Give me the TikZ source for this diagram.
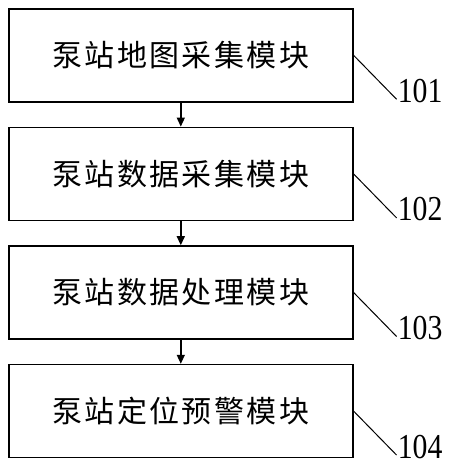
\documentclass[tikz,border=0pt]{standalone}
\usepackage{fontspec}
\setmainfont{Liberation Serif}
\newfontfamily\cjk[LetterSpace=8]{Noto Sans CJK SC}
\usetikzlibrary{arrows.meta, positioning}

\tikzset{
  modbox/.style={draw, line width=1.6pt, minimum width=344pt, minimum height=93pt,
    inner sep=0pt, font=\cjk\fontsize{30}{30}\selectfont},
  flow/.style={-{Triangle[length=9pt, width=8pt]}, line width=1.4pt},
  lead/.style={line width=1pt},
  tag/.style={anchor=base west, inner sep=0pt, xscale=0.85, font=\fontsize{35}{35}\selectfont}
}

\begin{document}
\begin{tikzpicture}[x=1pt, y=1pt]
  \useasboundingbox (0,0) rectangle (450,-466);

  % modules
  \node[modbox, anchor=north west] (map) at (8,-8) {泵站地图采集模块};
  \node[modbox, below=24pt of map] (collect) {泵站数据采集模块};
  \node[modbox, below=24pt of collect] (process) {泵站数据处理模块};
  \node[modbox, below=24pt of process] (warn) {泵站定位预警模块};

  % flow arrows
  \draw[flow] (map) -- (collect);
  \draw[flow] (collect) -- (process);
  \draw[flow] (process) -- (warn);

  % reference numbers
  \foreach \m/\n in {map/101, collect/102, process/103, warn/104} {
    \coordinate (\m-end) at ([shift={(43,-44)}]\m.east);
    \draw[lead] (\m.east) -- (\m-end);
    \node[tag] (\m-tag) at ([shift={(1,-3)}]\m-end) {\n};
  }
\end{tikzpicture}
\end{document}
